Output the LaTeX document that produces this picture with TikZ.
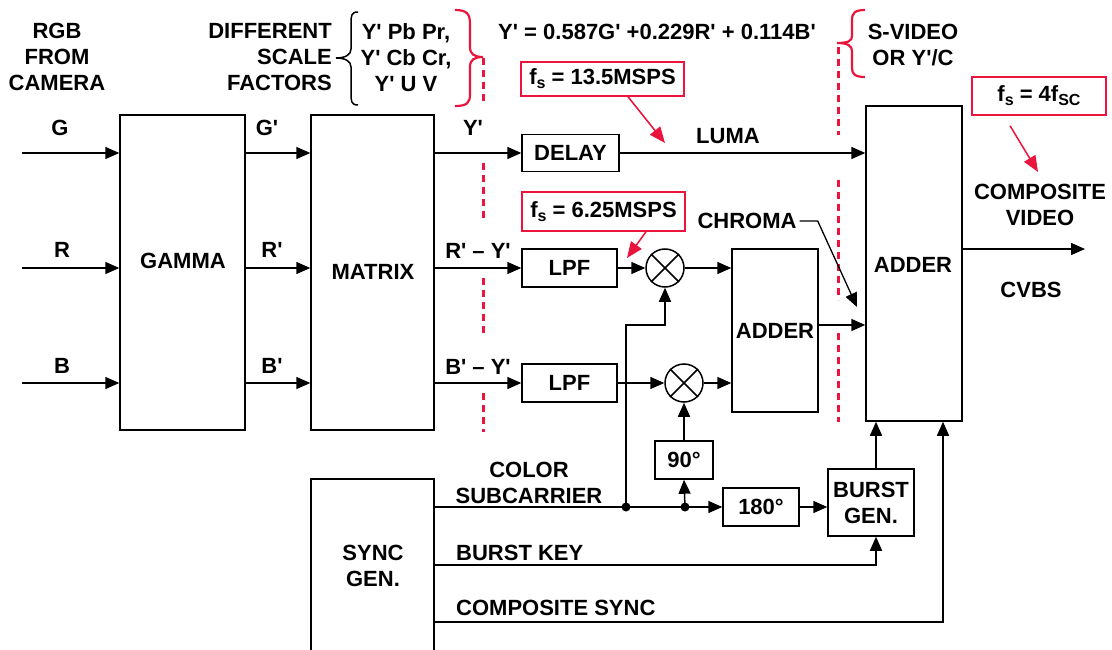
\documentclass[tikz,border=0pt]{standalone}
\usepackage{fontspec}
\setmainfont{Liberation Sans}[Ligatures=TeXOff]
\usetikzlibrary{arrows.meta,calc}
\definecolor{myred}{RGB}{235,20,60}
\newcommand{\lowsub}[1]{\raisebox{-0.35ex}{\fontsize{16}{16}\selectfont #1}}
\begin{document}
\begin{tikzpicture}[x=1pt,y=-1pt,
 every node/.style={font=\fontsize{22}{26}\selectfont\bfseries, inner sep=0pt, align=center},
 blk/.style={draw, line width=1.5pt, rectangle},
 mult/.style={draw, line width=1.5pt, circle, minimum size=38pt},
 arr/.style={line width=1.5pt, -{Triangle[length=14pt,width=12pt]}},
 ln/.style={line width=1.5pt},
 rbox/.style={draw=myred, line width=1.5pt, rectangle},
 rarr/.style={draw=myred, line width=1.5pt, -{Triangle[length=16pt,width=13pt]}},
 rdash/.style={draw=myred, line width=3pt, dash pattern=on 7pt off 5pt},
 rbrace/.style={draw=myred, line width=2.2pt},
 dot/.style={fill, circle, minimum size=9pt},
]
\useasboundingbox (0,0) rectangle (1112,650);

% header texts
\node (rgb) at (57,57) {RGB\\FROM\\CAMERA};
\node[anchor=east, align=right] (diff) at (332,57) {DIFFERENT\\SCALE\\FACTORS};
\node (yuv) at (406,58) {Y' Pb Pr,\\Y' Cb Cr,\\Y' U V};
\node (eq) at (657,32) {Y' = 0.587G' +0.229R' + 0.114B'};
\node (svid) at (913,45) {S-VIDEO\\OR Y'/C};

% braces
\draw[ln] (358,12) .. controls (351,12) and (351,16) .. (351,24) -- (351,49) .. controls (351,55) and (345,58) .. (336,58) .. controls (345,58) and (351,61) .. (351,67) -- (351,93) .. controls (351,101) and (351,105) .. (358,105);
\draw[rbrace] (455,10) .. controls (467,10) and (470,14) .. (470,24) -- (470,47) .. controls (470,54) and (474,57) .. (483,57) .. controls (474,57) and (470,60) .. (470,67) -- (470,94) .. controls (470,103) and (467,106) .. (455,106);
\draw[rbrace] (865,10) .. controls (855,10) and (852,13) .. (852,20) -- (852,36) .. controls (852,41) and (848,43) .. (837,43) .. controls (848,43) and (852,46) .. (852,51) -- (852,68) .. controls (852,74) and (855,77) .. (865,77);

% red dashed lines
\draw[rdash] (483,58) -- (483,105);
\draw[rdash] (483,163) -- (483,222);
\draw[rdash] (483,278) -- (483,337);
\draw[rdash] (483,393) -- (483,432);
\draw[rdash] (838,47) -- (838,135);
\draw[rdash] (838,180) -- (838,300);
\draw[rdash] (838,333) -- (838,422);

% blocks
\node[blk, minimum width=125pt, minimum height=315pt] (gamma) at (182.5,272.5) {};
\node (gammat) at (183,261) {GAMMA};
\node[blk, minimum width=123pt, minimum height=315pt] (matrix) at (372.5,272.5) {};
\node (matrixt) at (373,272) {MATRIX};
\node[blk, minimum width=97pt, minimum height=37pt] (delay) at (570.5,153) {DELAY};
\node[blk, minimum width=95pt, minimum height=38pt] (lpf1) at (569.5,268) {LPF};
\node[blk, minimum width=95pt, minimum height=38pt] (lpf2) at (569.5,383) {LPF};
\node[mult] (m1) at (665,268) {};
\node[mult] (m2) at (684,383) {};
\draw[ln] (m1.45) -- (m1.225) (m1.135) -- (m1.315);
\draw[ln] (m2.45) -- (m2.225) (m2.135) -- (m2.315);
\node[blk, minimum width=86pt, minimum height=163pt] (adder1) at (775,330.5) {ADDER};
\node[blk, minimum width=96pt, minimum height=315pt] (adder) at (914,263.5) {};
\node (addert) at (913,265) {ADDER};
\node[blk, minimum width=58pt, minimum height=38pt] (deg90) at (684,460) {90°};
\node[blk, minimum width=76pt, minimum height=38pt] (deg180) at (761,507) {180°};
\node[blk, minimum width=86pt, minimum height=67pt] (burst) at (871,502.5) {BURST\\GEN.};
\node[blk, minimum width=123pt, minimum height=181pt] (sync) at (372.5,569.5) {};
\node (synct) at (373,566) {SYNC\\GEN.};

% red boxes
\node[rbox, minimum width=163pt, minimum height=34pt] (rb1) at (602.5,79) {f\lowsub{s} = 13.5MSPS};
\node[rbox, minimum width=163pt, minimum height=39pt] (rb2) at (603.5,211.5) {f\lowsub{s} = 6.25MSPS};
\node[rbox, minimum width=134pt, minimum height=38pt] (rb3) at (1039,96) {f\lowsub{s} = 4f\lowsub{SC}};

% labels
\node (lg) at (60,128) {G};
\node (lr) at (62,250) {R};
\node (lb) at (62,366) {B};
\node (lg2) at (267,128) {G'};
\node (lr2) at (272,250) {R'};
\node (lb2) at (272,366) {B'};
\node (ly) at (473,128) {Y'};
\node (lry) at (478,251) {R' – Y'};
\node (lby) at (478,367) {B' – Y'};
\node (luma) at (728,136) {LUMA};
\node (chroma) at (747,221) {CHROMA};
\node (comp) at (1040,205) {COMPOSITE\\VIDEO};
\node (cvbs) at (1031,290) {CVBS};
\node (color) at (529,483) {COLOR\\SUBCARRIER};
\node[anchor=west] (bkey) at (456,553) {BURST KEY};
\node[anchor=west] (csync) at (456,608) {COMPOSITE SYNC};

% input coordinates
\coordinate (gin) at (22,153);
\coordinate (rin) at (22,268);
\coordinate (bin) at (22,383);
\draw[arr] (gin) -- (gin -| gamma.west);
\draw[arr] (rin) -- (rin -| gamma.west);
\draw[arr] (bin) -- (bin -| gamma.west);
\draw[arr] (gin -| gamma.east) -- (gin -| matrix.west);
\draw[arr] (rin -| gamma.east) -- (rin -| matrix.west);
\draw[arr] (bin -| gamma.east) -- (bin -| matrix.west);
\draw[arr] (delay.west -| matrix.east) -- (delay.west);
\draw[arr] (lpf1.west -| matrix.east) -- (lpf1.west);
\draw[arr] (lpf2.west -| matrix.east) -- (lpf2.west);
\draw[arr] (delay.east) -- (delay.east -| adder.west);
\draw[arr] (lpf1.east) -- (m1.west);
\draw[arr] (lpf2.east) -- (m2.west);
\draw[arr] (m1.east) -- (m1.east -| adder1.west);
\draw[arr] (m2.east) -- (m2.east -| adder1.west);
\coordinate (a1o) at ($(adder1.east)+(0,-5.5)$);
\draw[arr] (a1o) -- (a1o -| adder.west);
\coordinate (out) at (1085,249);
\draw[arr] (out -| adder.east) -- (out);
\coordinate (ctip) at (857,307);
\draw[arr, line width=1.3pt] (chroma.east) ++(3,0) -- ++(18,0) -- (ctip);

% subcarrier network
\coordinate (j1) at (626,507);
\coordinate (j2) at (685,507);
\draw[ln] (sync.east |- j1) -- (j1) -- (j2);
\draw[arr] (j2) -- (deg180.west);
\draw[arr] (deg180.east) -- (deg180.east -| burst.west);
\draw[arr] (j1) -- (j1 |- 0,325) -| (m1.south);
\draw[arr] (j2) -- (deg90.south);
\draw[arr] (deg90.north) -- (m2.south);
\node[dot] at (j1) {};
\node[dot] at (j2) {};
\coordinate (bt) at ($(burst.north)+(5,0)$);
\coordinate (bb) at ($(burst.south)+(5,0)$);
\draw[arr] (bt) -- (bt |- adder.south);
\draw[arr] (sync.east |- 0,565) -| (bb);
\coordinate (cs) at (943,622);
\draw[arr] (sync.east |- cs) -- (cs) -- (cs |- adder.south);

% red arrows
\draw[rarr] ($(rb1.south)+(25.5,0)$) -- (665,143);
\draw[rarr] ($(rb2.south)+(42.5,0)$) -- (627,258);
\draw[rarr] ($(rb3.south)+(-29,10)$) -- (1038,172);
\end{tikzpicture}
\end{document}
